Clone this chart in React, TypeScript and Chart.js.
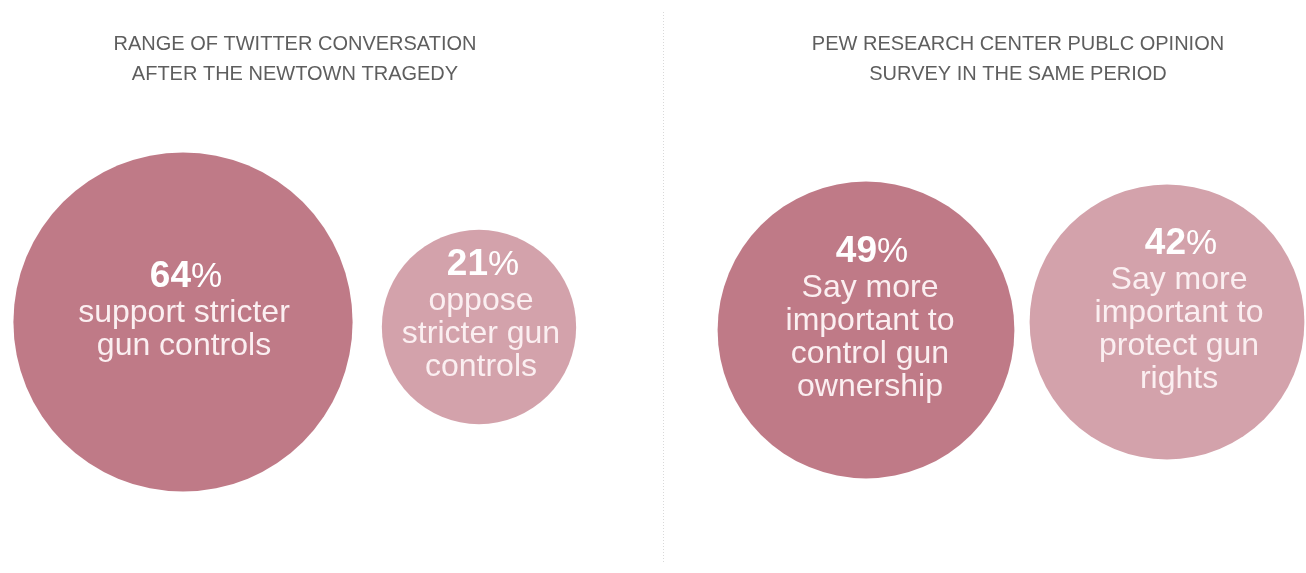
import React, { useEffect, useRef } from "react";
import { Chart, registerables } from "chart.js";

Chart.register(...registerables);

// ---- data ----
const categories = [
  "Support stricter gun controls (Twitter)",
  "Oppose stricter gun controls (Twitter)",
  "More important to control gun ownership (Pew)",
  "More important to protect gun rights (Pew)",
];
const percentValues = [64, 21, 49, 42];
const labelLines = [
  ["support stricter", "gun controls"],
  ["oppose", "stricter gun", "controls"],
  ["Say more", "important to", "control gun", "ownership"],
  ["Say more", "important to", "protect gun", "rights"],
];
const titleLeft = ["RANGE OF TWITTER CONVERSATION", "AFTER THE NEWTOWN TRAGEDY"];
const titleRight = ["PEW RESEARCH CENTER PUBLC OPINION", "SURVEY IN THE SAME PERIOD"];

// ---- layout / style (kept apart from data) ----
const W = 1306;
const H = 573;
const bubbleCenterX = [183, 479, 866, 1167];
const bubbleCenterY = [322, 327, 330, 322];
const labelOffsetX = [1, 2, 4, 12];
const RADIUS_K = 21.2; // radius = k * sqrt(percent)
const bubbleColors = ["#bf7a87", "#d3a2ab", "#bf7a87", "#d3a2ab"];
const titleCenters = [295, 1018];
const titleBaselines = [50, 80];
const dividerX = 663;

const FONT_FAMILY = '"Liberation Sans", Arial, sans-serif';

const decorPlugin = {
  id: "decor",
  beforeDraw(chart: any) {
    const ctx = chart.ctx;
    ctx.save();
    ctx.fillStyle = "#ffffff";
    ctx.fillRect(0, 0, chart.width, chart.height);
    // dotted divider
    ctx.strokeStyle = "#d9d9d9";
    ctx.lineWidth = 1;
    ctx.setLineDash([1, 2]);
    ctx.beginPath();
    ctx.moveTo(dividerX + 0.5, 12);
    ctx.lineTo(dividerX + 0.5, 562);
    ctx.stroke();
    ctx.setLineDash([]);
    // titles
    ctx.fillStyle = "#5e5e5e";
    ctx.font = `20px ${FONT_FAMILY}`;
    ctx.textAlign = "center";
    ctx.textBaseline = "alphabetic";
    [titleLeft, titleRight].forEach((lines, i) => {
      lines.forEach((t, j) => {
        ctx.fillText(t, titleCenters[i], titleBaselines[j]);
      });
    });
    ctx.restore();
  },
  afterDatasetsDraw(chart: any) {
    const ctx = chart.ctx;
    const meta = chart.getDatasetMeta(0);
    ctx.save();
    ctx.textBaseline = "alphabetic";
    meta.data.forEach((el: any, i: number) => {
      const cx = el.x + labelOffsetX[i];
      const cy = el.y;
      const lines = labelLines[i];
      const percTop = 27;
      const firstGap = 35;
      const pitch = 33;
      const blockH = percTop + firstGap + pitch * (lines.length - 1);
      const top = cy - 15 - blockH / 2;
      const percBase = top + percTop;
      // percent line: bold number + regular %
      const num = String(percentValues[i]);
      ctx.font = `bold 37px ${FONT_FAMILY}`;
      const wNum = ctx.measureText(num).width;
      ctx.font = `35px ${FONT_FAMILY}`;
      const wPct = ctx.measureText("%").width;
      const startX = cx + 2 - (wNum + wPct) / 2;
      ctx.textAlign = "left";
      ctx.fillStyle = "#ffffff";
      ctx.font = `bold 37px ${FONT_FAMILY}`;
      ctx.fillText(num, startX, percBase);
      ctx.font = `35px ${FONT_FAMILY}`;
      ctx.fillText("%", startX + wNum, percBase);
      // body lines
      ctx.textAlign = "center";
      ctx.fillStyle = "#fbeff1";
      ctx.font = `32px ${FONT_FAMILY}`;
      lines.forEach((t, j) => {
        ctx.fillText(t, cx, percBase + firstGap + pitch * j);
      });
    });
    ctx.restore();
  },
};

export default function App() {
  const canvasRef = useRef<HTMLCanvasElement | null>(null);

  useEffect(() => {
    if (!canvasRef.current) return;
    const chart = new Chart(canvasRef.current, {
      type: "bubble",
      data: {
        labels: categories,
        datasets: [
          {
            label: "Share",
            data: percentValues.map((v, i) => ({
              x: bubbleCenterX[i],
              y: bubbleCenterY[i],
              r: RADIUS_K * Math.sqrt(v),
            })),
            backgroundColor: bubbleColors,
            borderWidth: 0,
            hoverRadius: 0,
            clip: false as any,
          },
        ],
      },
      options: {
        responsive: false,
        animation: false,
        layout: { padding: 0, autoPadding: false } as any,
        events: [],
        plugins: {
          legend: { display: false },
          tooltip: { enabled: false },
          title: { display: false },
        },
        scales: {
          x: { type: "linear", min: 0, max: W, display: false },
          y: { type: "linear", min: 0, max: H, reverse: true, display: false },
        },
      },
      plugins: [decorPlugin],
    });
    return () => chart.destroy();
  }, []);

  return (
    <div style={{ position: "absolute", left: 0, top: 0, width: W, height: H, background: "#fff" }}>
      <canvas ref={canvasRef} width={W} height={H} style={{ display: "block" }} />
    </div>
  );
}
